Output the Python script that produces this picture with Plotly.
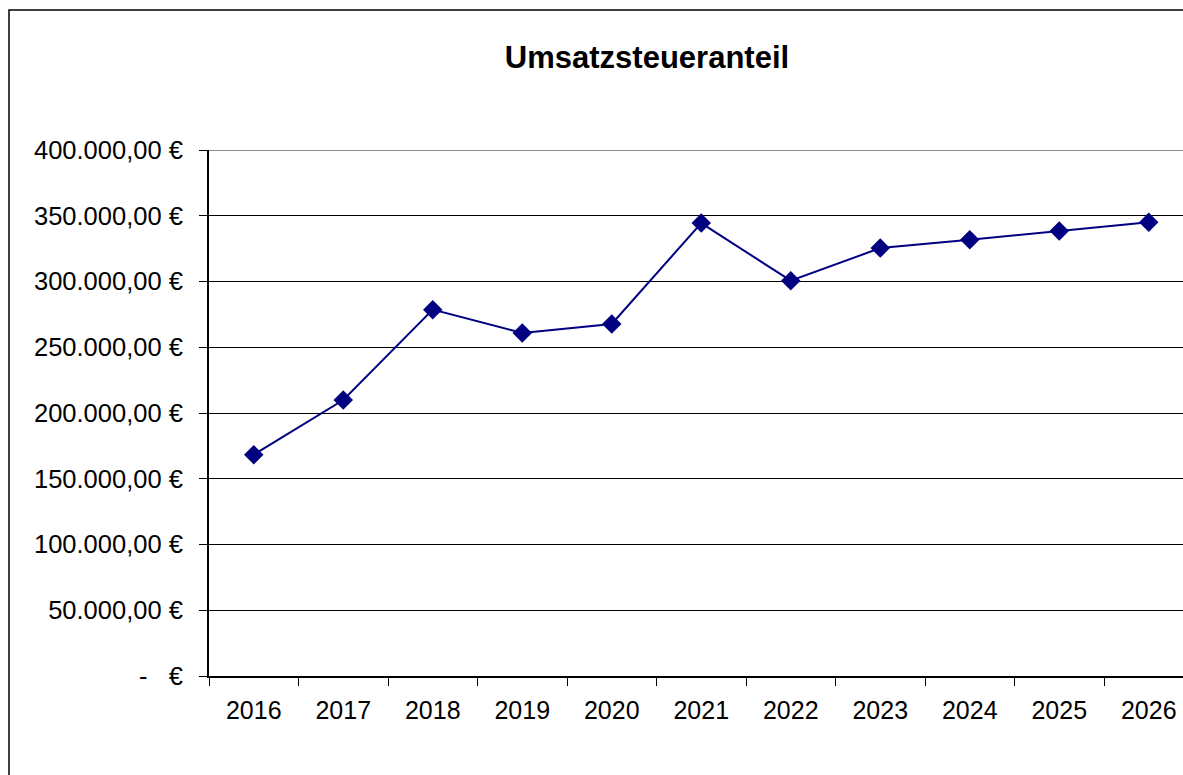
import plotly.graph_objects as go

years = ["2016", "2017", "2018", "2019", "2020", "2021", "2022", "2023", "2024", "2025", "2026"]
values = [168300, 209900, 278600, 260900, 267700, 344400, 300600, 325400, 331700, 338400, 345100]
y_tickvals = [0, 50000, 100000, 150000, 200000, 250000, 300000, 350000, 400000]
y_ticktext = ["-\u00a0\u00a0\u00a0€", "50.000,00\u00a0€", "100.000,00\u00a0€", "150.000,00\u00a0€",
              "200.000,00\u00a0€", "250.000,00\u00a0€", "300.000,00\u00a0€", "350.000,00\u00a0€",
              "400.000,00\u00a0€"]

W, H = 1183, 775
L, T, B = 209, 150, 99
cat_w = 89.5
plot_w = W - L
plot_h = H - T - B

fig = go.Figure()
fig.add_trace(go.Scatter(
    x=years, y=values, mode="lines+markers",
    line=dict(color="#000080", width=2),
    marker=dict(symbol="diamond", size=15, color="#000080"),
    cliponaxis=False,
))

fig.update_layout(
    width=W, height=H,
    margin=dict(l=L, r=0, t=T, b=B, pad=0),
    paper_bgcolor="white", plot_bgcolor="white",
    showlegend=False,
    font=dict(family="Liberation Sans, Arial, sans-serif", size=25, color="black"),
    title=dict(text="<b>Umsatzsteueranteil</b>", x=647 / W, xanchor="center", xref="container",
               y=1 - 57 / H, yanchor="middle", yref="container",
               font=dict(size=31, color="black", family="Liberation Sans, Arial, sans-serif")),
    xaxis=dict(
        type="category", range=[-0.5, -0.5 + plot_w / cat_w],
        tickson="boundaries", ticks="outside", ticklen=8, tickcolor="black", tickwidth=1,
        showgrid=False, showline=True, linecolor="black", linewidth=2,
        tickfont=dict(size=25), fixedrange=True, ticklabelstandoff=11,
    ),
    yaxis=dict(
        range=[0, 400000], tickvals=y_tickvals, ticktext=y_ticktext,
        ticks="outside", ticklen=8, tickcolor="black", tickwidth=1,
        showgrid=True, gridcolor="black", gridwidth=1,
        showline=True, linecolor="black", linewidth=2,
        zeroline=False, tickfont=dict(size=25.5), ticklabelstandoff=11,
    ),
    shapes=[
        dict(type="line", xref="paper", yref="y", x0=0, x1=1, y0=400000, y1=400000,
             line=dict(color="#909090", width=2), layer="above"),
        dict(type="rect", xref="paper", yref="paper",
             x0=(9 - L) / plot_w, x1=1.2, y0=-0.5, y1=(H - B - 10) / plot_h,
             line=dict(color="black", width=1.5), layer="below"),
    ],
)

fig.write_html("out.html", config={"displayModeBar": False},
               post_script="document.body.style.margin='0';document.body.style.overflow='hidden';")
